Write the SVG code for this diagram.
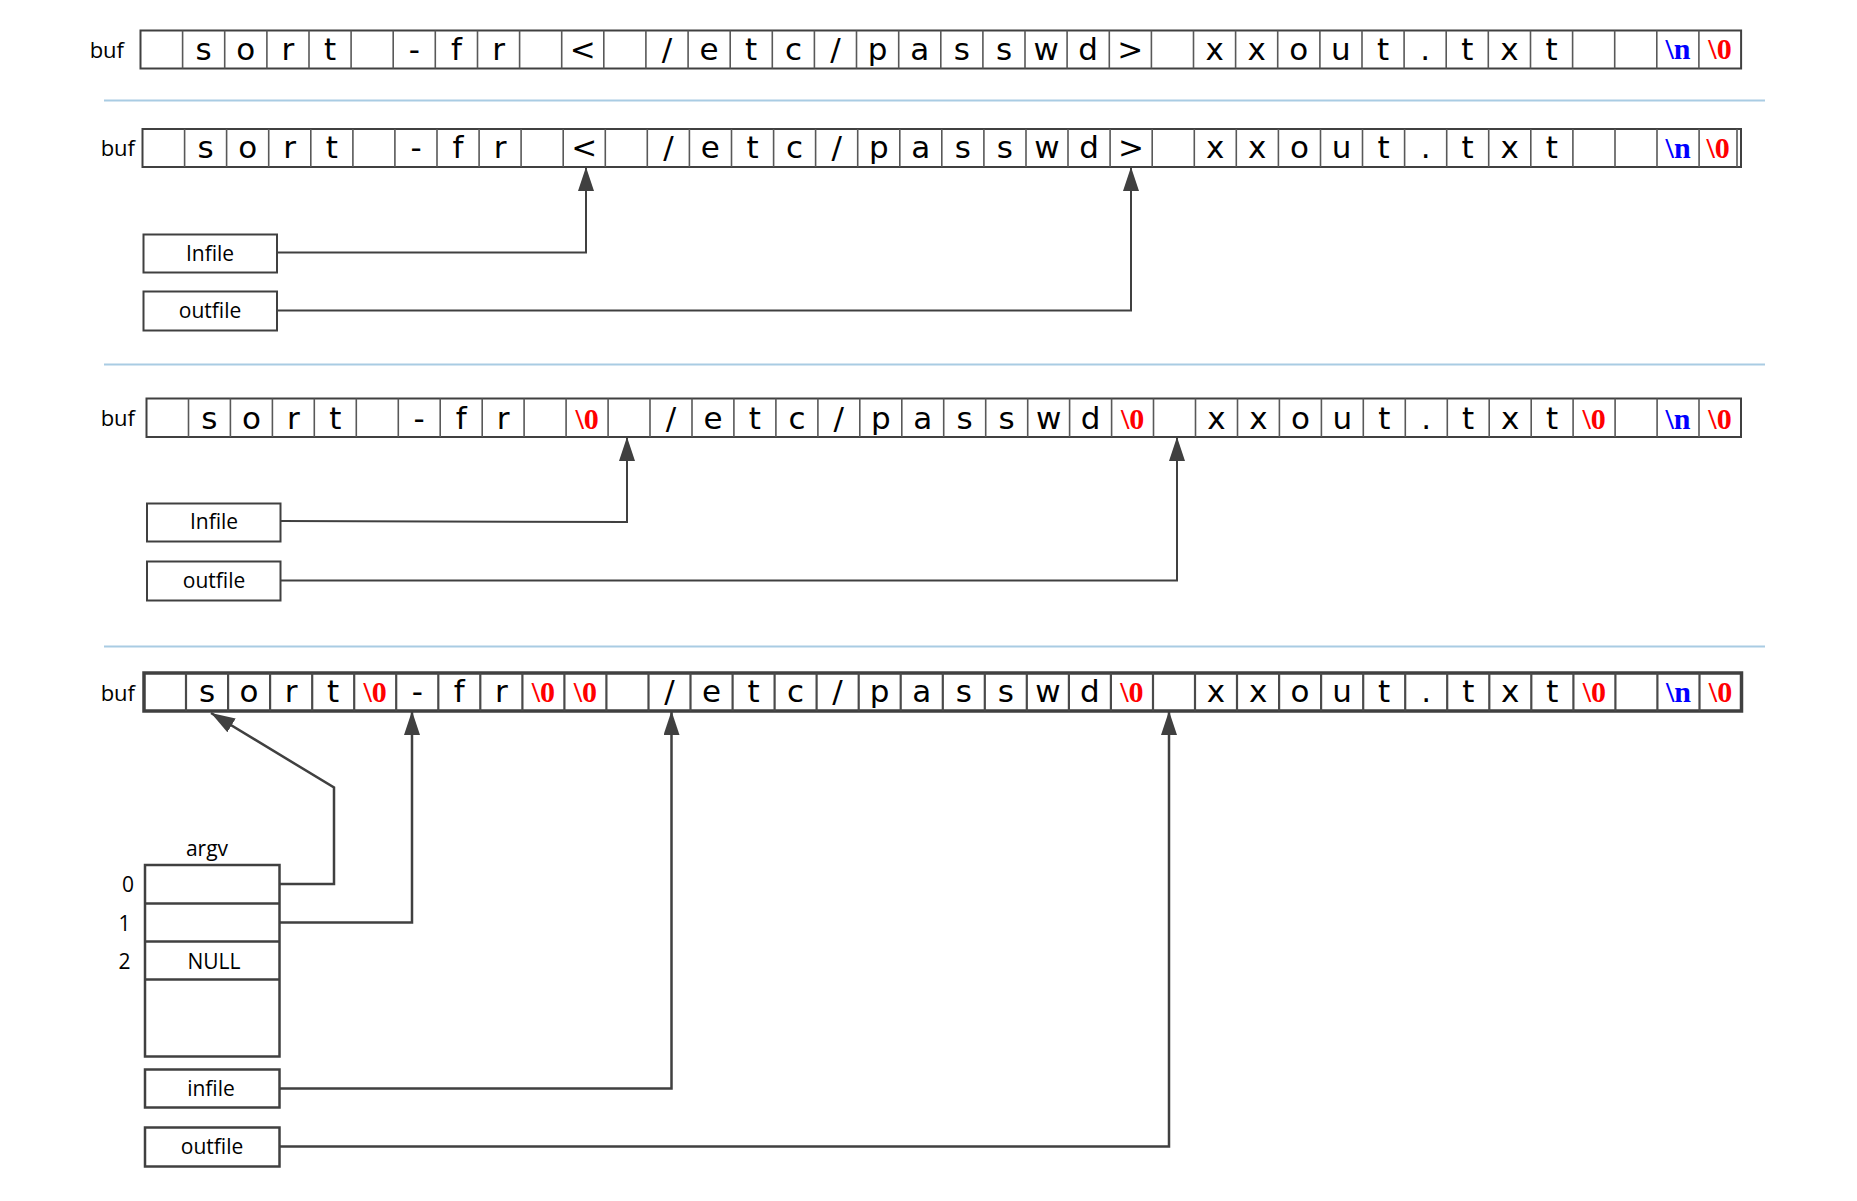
<svg xmlns="http://www.w3.org/2000/svg" width="1857" height="1201" viewBox="0 0 1857 1201">
<style>
.bg{fill:#fff}
.cellbox{fill:#fff;stroke:#404040;stroke-width:2}
.cellbox4{fill:#fff;stroke:#404040;stroke-width:3.5}
.div{fill:none;stroke:#595959;stroke-width:1.6}
.ch{font-family:"DejaVu Sans",Verdana,sans-serif;font-size:31px;fill:#000;text-anchor:middle}
.nul{font-family:"Liberation Serif","Times New Roman",serif;font-weight:bold;font-size:30px;fill:#ff0000;text-anchor:middle}
.nl{font-family:"Liberation Serif","Times New Roman",serif;font-weight:bold;font-size:30px;fill:#0000ff;text-anchor:middle}
.lbl{font-family:"Open Sans","Liberation Sans",Arial,sans-serif;font-size:21px;fill:#000;text-anchor:middle}
.buf{font-family:"Open Sans","Liberation Sans",Arial,sans-serif;font-size:22px;fill:#000;text-anchor:end}
.box{fill:#fff;stroke:#404040;stroke-width:2}
.box4{fill:#fff;stroke:#404040;stroke-width:2.5}
.sep{stroke:#a9cce3;stroke-width:2}
.con{fill:none;stroke:#404040;stroke-width:2}
.con4{fill:none;stroke:#404040;stroke-width:2.5}
</style>
<defs>
<marker id="ah" viewBox="0 0 24 16" refX="24" refY="8" markerWidth="24" markerHeight="16" markerUnits="userSpaceOnUse" orient="auto"><path d="M0,0 L24,8 L0,16 z" fill="#404040"/></marker>
</defs>
<rect class="bg" x="0" y="0" width="1857" height="1201"/>

<g id="separators">
<line class="sep" x1="104" y1="100.5" x2="1765" y2="100.5"/>
<line class="sep" x1="104" y1="364.5" x2="1765" y2="364.5"/>
<line class="sep" x1="104" y1="646.5" x2="1765" y2="646.5"/>
</g>

<!-- Row 1 -->
<g id="row1">
<text class="buf" x="124" y="58">buf</text>
<g transform="translate(140.5,30.5)">
<rect class="cellbox" x="0" y="0" width="1600.6" height="38"/>
<path class="div" d="M42.1,0V38M84.2,0V38M126.4,0V38M168.5,0V38M210.6,0V38M252.7,0V38M294.8,0V38M337,0V38M379.1,0V38M421.2,0V38M463.3,0V38M505.4,0V38M547.6,0V38M589.7,0V38M631.8,0V38M673.9,0V38M716,0V38M758.2,0V38M800.3,0V38M842.4,0V38M884.5,0V38M926.6,0V38M968.8,0V38M1010.9,0V38M1053,0V38M1095.1,0V38M1137.2,0V38M1179.4,0V38M1221.5,0V38M1263.6,0V38M1305.7,0V38M1347.8,0V38M1390,0V38M1432.1,0V38M1474.2,0V38M1516.3,0V38M1558.4,0V38"/>
<text class="ch" y="29" x="63.2 105.3 147.4 189.5">sort</text>
<text class="ch" y="29" x="273.8 315.9 358.0">-fr</text>
<text class="ch" y="29" x="442.3">&lt;</text>
<text class="ch" y="29" x="526.5 568.6 610.7 652.9 695.0 737.1 779.2 821.3 863.5 905.6 947.7 989.8">/etc/passwd&gt;</text>
<text class="ch" y="29" x="1074.1 1116.2 1158.3 1200.4 1242.5 1284.7 1326.8 1368.9 1411.0">xxout.txt</text>
<text class="nl" x="1537.4" y="28">\n</text>
<text class="nul" x="1579.5" y="28">\0</text>
</g>
</g>

<!-- Row 2 -->
<g id="row2">
<text class="buf" x="135" y="156">buf</text>
<g transform="translate(142.5,129)">
<rect class="cellbox" x="0" y="0" width="1598.5" height="38"/>
<path class="div" d="M42.1,0V38M84.1,0V38M126.2,0V38M168.3,0V38M210.4,0V38M252.4,0V38M294.5,0V38M336.6,0V38M378.6,0V38M420.7,0V38M462.8,0V38M504.8,0V38M546.9,0V38M589,0V38M631.1,0V38M673.1,0V38M715.2,0V38M757.3,0V38M799.3,0V38M841.4,0V38M883.5,0V38M925.5,0V38M967.6,0V38M1009.7,0V38M1051.8,0V38M1093.8,0V38M1135.9,0V38M1178,0V38M1220,0V38M1262.1,0V38M1304.2,0V38M1346.2,0V38M1388.3,0V38M1430.4,0V38M1472.5,0V38M1514.5,0V38M1556.6,0V38M1594.5,0V38"/>
<text class="ch" y="29" x="63.1 105.2 147.2 189.3">sort</text>
<text class="ch" y="29" x="273.5 315.5 357.6">-fr</text>
<text class="ch" y="29" x="441.7">&lt;</text>
<text class="ch" y="29" x="525.9 567.9 610.0 652.1 694.2 736.3 778.3 820.4 862.4 904.5 946.6 988.6">/etc/passwd&gt;</text>
<text class="ch" y="29" x="1072.8 1114.8 1156.9 1199.0 1241.1 1283.2 1325.2 1367.3 1409.3">xxout.txt</text>
<text class="nl" x="1535.6" y="29">\n</text>
<text class="nul" x="1575.6" y="29">\0</text>
</g>
</g>

<!-- Row 3 -->
<g id="row3">
<text class="buf" x="135" y="426">buf</text>
<g transform="translate(146.5,398.5)">
<rect class="cellbox" x="0" y="0" width="1594.5" height="38.5"/>
<path class="div" d="M42,0V38.5M83.9,0V38.5M125.9,0V38.5M167.8,0V38.5M209.8,0V38.5M251.8,0V38.5M293.7,0V38.5M335.7,0V38.5M377.6,0V38.5M419.6,0V38.5M461.6,0V38.5M503.5,0V38.5M545.5,0V38.5M587.4,0V38.5M629.4,0V38.5M671.4,0V38.5M713.3,0V38.5M755.3,0V38.5M797.2,0V38.5M839.2,0V38.5M881.2,0V38.5M923.1,0V38.5M965.1,0V38.5M1007,0V38.5M1049,0V38.5M1091,0V38.5M1132.9,0V38.5M1174.9,0V38.5M1216.8,0V38.5M1258.8,0V38.5M1300.8,0V38.5M1342.7,0V38.5M1384.7,0V38.5M1426.6,0V38.5M1468.6,0V38.5M1510.6,0V38.5M1552.5,0V38.5"/>
<text class="ch" y="30" x="62.9 104.9 146.9 188.8">sort</text>
<text class="ch" y="30" x="272.7 314.7 356.6">-fr</text>
<text class="ch" y="30" x="524.5 566.5 608.4 650.4 692.3 734.3 776.3 818.2 860.2 902.1 944.1">/etc/passwd</text>
<text class="ch" y="30" x="1070.0 1112.0 1153.9 1195.9 1237.8 1279.8 1321.7 1363.7 1405.7">xxout.txt</text>
<text class="nul" x="440.6" y="30">\0</text>
<text class="nul" x="986.1" y="30">\0</text>
<text class="nul" x="1447.6" y="30">\0</text>
<text class="nl" x="1531.5" y="30">\n</text>
<text class="nul" x="1573.5" y="30">\0</text>
</g>
</g>

<!-- Row 4 -->
<g id="row4">
<text class="buf" x="135" y="701">buf</text>
<g transform="translate(144,673)">
<rect class="cellbox4" x="0" y="0" width="1597.5" height="38"/>
<path class="div" style="stroke-width:2.2;stroke:#4a4a4a" d="M42,0V38M84.1,0V38M126.1,0V38M168.2,0V38M210.2,0V38M252.2,0V38M294.3,0V38M336.3,0V38M378.4,0V38M420.4,0V38M462.4,0V38M504.5,0V38M546.5,0V38M588.6,0V38M630.6,0V38M672.6,0V38M714.7,0V38M756.7,0V38M798.8,0V38M840.8,0V38M882.8,0V38M924.9,0V38M966.9,0V38M1009,0V38M1051,0V38M1093,0V38M1135.1,0V38M1177.1,0V38M1219.2,0V38M1261.2,0V38M1303.2,0V38M1345.3,0V38M1387.3,0V38M1429.4,0V38M1471.4,0V38M1513.4,0V38M1555.5,0V38"/>
<text class="ch" y="29" x="63.1 105.1 147.1 189.2">sort</text>
<text class="ch" y="29" x="273.3 315.3 357.3">-fr</text>
<text class="ch" y="29" x="525.5 567.5 609.5 651.6 693.6 735.7 777.7 819.8 861.8 903.9 945.9">/etc/passwd</text>
<text class="ch" y="29" x="1072.0 1114.1 1156.1 1198.2 1240.2 1282.2 1324.3 1366.3 1408.3">xxout.txt</text>
<text class="nul" x="231.2" y="29">\0</text>
<text class="nul" x="399.4" y="29">\0</text>
<text class="nul" x="441.4" y="29">\0</text>
<text class="nul" x="987.9" y="29">\0</text>
<text class="nul" x="1450.4" y="29">\0</text>
<text class="nl" x="1534.5" y="29">\n</text>
<text class="nul" x="1576.5" y="29">\0</text>
</g>
</g>

<!-- Section 2 nodes -->
<g id="infile2">
<rect class="box" x="143.5" y="234.5" width="133.5" height="38"/>
<text class="lbl" x="210" y="260.5">Infile</text>
</g>
<g id="outfile2">
<rect class="box" x="143.5" y="291.5" width="133.5" height="39"/>
<text class="lbl" x="210" y="317.5">outfile</text>
</g>

<!-- Section 3 nodes -->
<g id="infile3">
<rect class="box" x="147" y="503.5" width="133.5" height="38"/>
<text class="lbl" x="214" y="529">Infile</text>
</g>
<g id="outfile3">
<rect class="box" x="147" y="561.5" width="133.5" height="39"/>
<text class="lbl" x="214" y="587.5">outfile</text>
</g>

<!-- Section 4 nodes -->
<g id="argv">
<text class="lbl" x="207" y="856">argv</text>
<rect class="box4" x="145" y="865" width="134.5" height="191.5"/>
<line class="con4" x1="145" y1="903.5" x2="279.5" y2="903.5"/>
<line class="con4" x1="145" y1="941.5" x2="279.5" y2="941.5"/>
<line class="con4" x1="145" y1="979.5" x2="279.5" y2="979.5"/>
<text class="lbl" x="128" y="892">0</text>
<text class="lbl" x="124.5" y="931">1</text>
<text class="lbl" x="124.5" y="969">2</text>
<text class="lbl" x="214" y="969">NULL</text>
</g>
<g id="infile4">
<rect class="box4" x="145" y="1069.5" width="134.5" height="38"/>
<text class="lbl" x="211" y="1095.5">infile</text>
</g>
<g id="outfile4">
<rect class="box4" x="145" y="1127.5" width="134.5" height="39"/>
<text class="lbl" x="212" y="1154">outfile</text>
</g>

<g id="connectors">
<polyline class="con" points="277,252.5 586,252.5 586,167" marker-end="url(#ah)"/>
<polyline class="con" points="277,310.5 1131,310.5 1131,167" marker-end="url(#ah)"/>
<polyline class="con" points="280.5,521 627,522 627,437" marker-end="url(#ah)"/>
<polyline class="con" points="280.5,580.5 1177,580.5 1177,437" marker-end="url(#ah)"/>
<polyline class="con4" points="279.5,884 334,884 334,787.5 211,713" marker-end="url(#ah)"/>
<polyline class="con4" points="279.5,922.5 412,922.5 412,711" marker-end="url(#ah)"/>
<polyline class="con4" points="279.5,1088.5 671.5,1088.5 671.5,711" marker-end="url(#ah)"/>
<polyline class="con4" points="279.5,1146.5 1169,1146.5 1169,711" marker-end="url(#ah)"/>
</g>
</svg>
